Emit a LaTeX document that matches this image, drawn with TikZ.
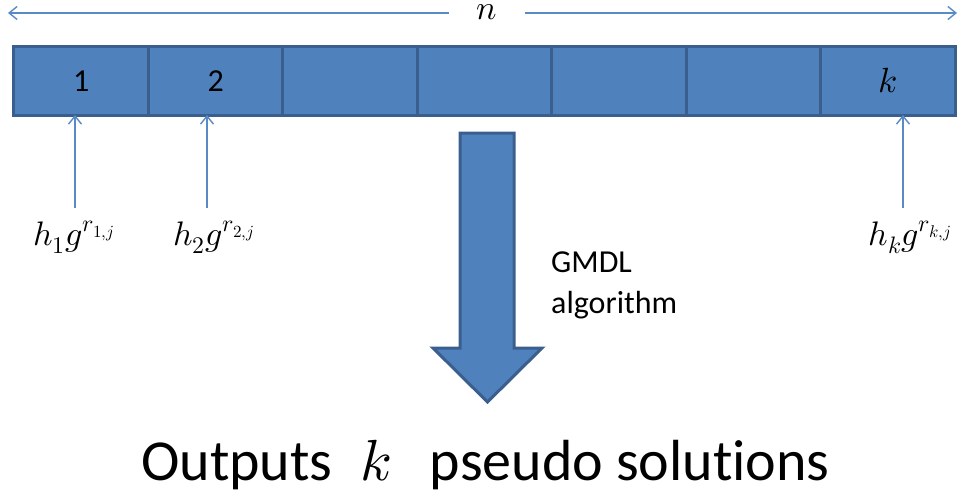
\documentclass[tikz,border=0pt]{standalone}
\usepackage{fontspec}
\usepackage{unicode-math}
\setmainfont{Carlito}[RawFeature=-liga]
\setmathfont{Latin Modern Math}
\usetikzlibrary{arrows.meta}
\definecolor{cellfill}{HTML}{4F81BD}
\definecolor{celldraw}{HTML}{3A5F8E}
\definecolor{linecol}{HTML}{5A8AC6}
\begin{document}
\begin{tikzpicture}[x=1pt,y=-1pt,
  cell/.style={draw=celldraw, fill=cellfill, line width=3pt, minimum width=134.43pt,
    minimum height=68pt, inner sep=0pt, outer sep=0pt, font=\fontsize{32}{38}\selectfont},
  pin/.style={draw=linecol, line width=1.4pt, -{Straight Barb[length=8pt,width=13pt,line width=1.4pt]}},
  lab/.style={inner sep=0pt, font=\fontsize{34}{40}\selectfont},
  txt/.style={inner sep=0pt, font=\fontsize{32}{38}\selectfont},
  big/.style={inner sep=0pt, font=\fontsize{58}{70}\selectfont}]
\useasboundingbox (0,0) rectangle (961,495);
% cells
\foreach \i/\t in {0/1,1/2,2/,3/,4/,5/,6/{\fontsize{35}{40}\selectfont$k$}}
  \node[cell] (c\i) at ({14+134.43*\i+67.2},81) {\t};
% top dimension arrow
\node[lab, anchor=base, inner xsep=28pt, inner ysep=0pt] (n) at (487,20) {$n$};
\coordinate (L) at (8,13);
\coordinate (R) at (957,13);
\draw[pin] (n.west |- L) -- (L);
\draw[pin] (n.east |- R) -- (R);
% input labels and arrows
\node[lab, anchor=base] (l1) at (74,245) {$h_1g^{r_{1,j}}$};
\node[lab, anchor=base] (l2) at (214,245) {$h_2g^{r_{2,j}}$};
\node[lab, anchor=base] (lk) at (910,245) {$h_kg^{r_{k,j}}$};
\coordinate (b1) at (75,208);
\coordinate (b2) at (207,208);
\coordinate (bk) at (903,208);
\draw[pin] (b1) -- (b1 |- c0.south);
\draw[pin] (b2) -- (b2 |- c1.south);
\draw[pin] (bk) -- (bk |- c6.south);
% big arrow
\draw[draw=celldraw, fill=cellfill, line width=3pt, line join=miter]
  (460,133) -- (514,133) -- (514,348) -- (542,348) -- (487.5,402) -- (433,348) -- (460,348) -- cycle;
\node[txt, anchor=base west] (g1) at (551,272) {GMDL};
\node[txt, anchor=base west] (g2) at (551,313) {algorithm};
% output text
\node[big, anchor=base west] (out1) at (141,480) {Outputs};
\node[big, anchor=base] (outk) at (376,480) {$k$};
\node[big, anchor=base east] (out2) at (830,480) {pseudo solutions};
\end{tikzpicture}
\end{document}
